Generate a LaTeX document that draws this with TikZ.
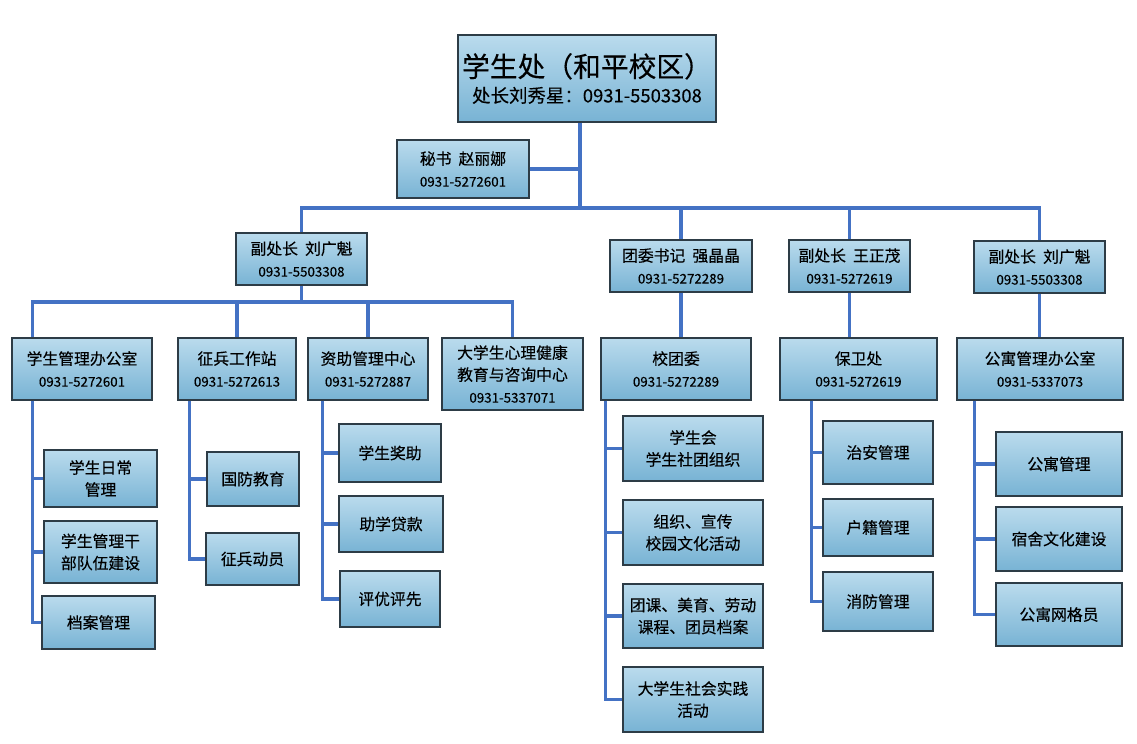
\documentclass[tikz,border=0pt]{standalone}
\usepackage{fontspec}
\usepackage{tikz}
\usetikzlibrary{positioning, calc}
\newfontfamily\cjk[FakeBold=0.3]{Noto Sans CJK SC}
\definecolor{linkblue}{RGB}{68,114,196}
\definecolor{boxtop}{RGB}{186,219,237}
\definecolor{boxbot}{RGB}{120,179,212}
\definecolor{boxline}{RGB}{45,60,70}
\newcommand{\tel}[1]{{\fontsize{7.6}{10}\selectfont #1}}
\newcommand{\gap}{\hspace{0.45em}}

\begin{document}
\begin{tikzpicture}[x=0.02cm,y=-0.02cm]

	\def \px{0.02cm}
	\tikzstyle{box}=[draw=boxline,line width=0.6pt,top color=boxtop,bottom color=boxbot,align=center,inner sep=1pt,font=\cjk\fontsize{9}{12.5}\selectfont]
	\tikzstyle{link}=[draw=linkblue,line width=2.2pt]
	\tikzset{sz/.style 2 args={minimum width=#1*\px,minimum height=#2*\px}}
	\useasboundingbox (0,0) rectangle (1137,744);

	% head and secretary
	\node[box,sz={258}{87}] (head) at (587,78.5) {{\fontsize{15.8}{18}\selectfont 学生处（和平校区）}\\[2pt]{\fontsize{10.5}{13}\selectfont 处长刘秀星：0931-5503308}};
	\node[box,sz={132}{58}] (sec) at (463,169) {秘书\gap 赵丽娜\\\tel{0931-5272601}};

	% deputies
	\node[box,sz={131}{52}] (vpA) at (301.5,259) {副处长\gap 刘广魁\\\tel{0931-5503308}};
	\node[box,sz={142}{52}] (vpB) at (681,266) {团委书记\gap 强晶晶\\\tel{0931-5272289}};
	\node[box,sz={121}{52}] (vpC) at (849.5,266) {副处长\gap 王正茂\\\tel{0931-5272619}};
	\node[box,sz={131}{52}] (vpD) at (1039.5,267) {副处长\gap 刘广魁\\\tel{0931-5503308}};

	% offices
	\node[box,sz={140}{62}] (offA) at (82,369) {学生管理办公室\\\tel{0931-5272601}};
	\node[box,sz={118}{62}] (offB) at (237,369) {征兵工作站\\\tel{0931-5272613}};
	\node[box,sz={120}{62}] (offC) at (368,369) {资助管理中心\\\tel{0931-5272887}};
	\node[box,sz={141}{72}] (offD) at (512.5,374) {大学生心理健康\\教育与咨询中心\\\tel{0931-5337071}};
	\node[box,sz={150}{62}] (offE) at (676,369) {校团委\\\tel{0931-5272289}};
	\node[box,sz={157}{62}] (offF) at (858.5,369) {保卫处\\\tel{0931-5272619}};
	\node[box,sz={166}{62}] (offG) at (1040,369) {公寓管理办公室\\\tel{0931-5337073}};

	% tasks
	\node[box,sz={113}{57}] (tA1) at (100.5,478.5) {学生日常\\管理};
	\node[box,sz={113}{62}] (tA2) at (100.5,552) {学生管理干\\部队伍建设};
	\node[box,sz={113}{53}] (tA3) at (98.5,622.5) {档案管理};
	\node[box,sz={92}{54}] (tB1) at (253,479) {国防教育};
	\node[box,sz={93}{52}] (tB2) at (252.5,559) {征兵动员};
	\node[box,sz={102}{58}] (tC1) at (390,453) {学生奖助};
	\node[box,sz={104}{56}] (tC2) at (391,524) {助学贷款};
	\node[box,sz={100}{56}] (tC3) at (390,599) {评优评先};
	\node[box,sz={140}{65}] (tE1) at (693,448.5) {学生会\\学生社团组织};
	\node[box,sz={140}{65}] (tE2) at (693,532.5) {组织、宣传\\校园文化活动};
	\node[box,sz={140}{64}] (tE3) at (693,616) {团课、美育、劳动\\课程、团员档案};
	\node[box,sz={140}{65}] (tE4) at (693,699.5) {大学生社会实践\\活动};
	\node[box,sz={110}{63}] (tF1) at (878,452.5) {治安管理};
	\node[box,sz={110}{57}] (tF2) at (878,527.5) {户籍管理};
	\node[box,sz={110}{59}] (tF3) at (878,601.5) {消防管理};
	\node[box,sz={126}{64}] (tG1) at (1059,464) {公寓管理};
	\node[box,sz={126}{64}] (tG2) at (1059,539) {宿舍文化建设};
	\node[box,sz={126}{63}] (tG3) at (1059,614.5) {公寓网格员};

	% upper links
	\coordinate (bus1) at (0,208);
	\coordinate (bus2) at (0,302);
	\coordinate (stem) at ($(head.south)+(-7,0)$);
	\draw[link] (stem) -- (stem |- bus1);
	\draw[link] (sec.east) -- (sec.east -| stem);
	\draw[link] (vpA.north) |- (vpD.north |- bus1) -- (vpD.north);
	\draw[link] (vpB.north) -- (vpB.north |- bus1);
	\draw[link] (vpC.north) -- (vpC.north |- bus1);

	\draw[link] (vpA.south) -- (vpA.south |- bus2);
	\draw[link] ($(offA.north west)+(21,0)$) |- (offD.north |- bus2) -- (offD.north);
	\draw[link] (offB.north) -- (offB.north |- bus2);
	\draw[link] (offC.north) -- (offC.north |- bus2);
	\draw[link] (vpB.south) -- (vpB.south |- offE.north);
	\draw[link] (vpC.south) -- (vpC.south |- offF.north);
	\draw[link] (vpD.south) -- (vpD.south |- offG.north);

	% lower links
	\draw[link] ($(offA.south west)+(21,0)$) |- (tA1.west);
	\draw[link] ($(offA.south west)+(21,0)$) |- (tA2.west);
	\draw[link] ($(offA.south west)+(21,0)$) |- (tA3.west);
	\draw[link] ($(offB.south west)+(12,0)$) |- (tB1.west);
	\draw[link] ($(offB.south west)+(12,0)$) |- (tB2.west);
	\draw[link] ($(offC.south west)+(15,0)$) |- (tC1.west);
	\draw[link] ($(offC.south west)+(15,0)$) |- (tC2.west);
	\draw[link] ($(offC.south west)+(15,0)$) |- (tC3.west);
	\draw[link] ($(offE.south west)+(5,0)$) |- (tE1.west);
	\draw[link] ($(offE.south west)+(5,0)$) |- (tE2.west);
	\draw[link] ($(offE.south west)+(5,0)$) |- (tE3.west);
	\draw[link] ($(offE.south west)+(5,0)$) |- (tE4.west);
	\draw[link] ($(offF.south west)+(32,0)$) |- (tF1.west);
	\draw[link] ($(offF.south west)+(32,0)$) |- (tF2.west);
	\draw[link] ($(offF.south west)+(32,0)$) |- (tF3.west);
	\draw[link] ($(offG.south west)+(18,0)$) |- (tG1.west);
	\draw[link] ($(offG.south west)+(18,0)$) |- (tG2.west);
	\draw[link] ($(offG.south west)+(18,0)$) |- (tG3.west);
\end{tikzpicture}
\end{document}
